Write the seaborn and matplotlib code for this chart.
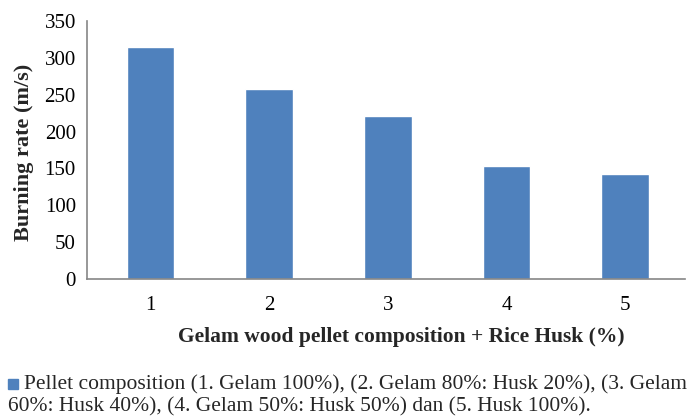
import matplotlib.pyplot as plt
import pandas as pd
import seaborn as sns

sns.set_theme(style="white")
plt.rcParams["font.family"] = ["Liberation Serif", "DejaVu Serif"]

composition = ["1", "2", "3", "4", "5"]
burning_rate = [314, 258, 221, 153, 143]
y_ticks = [0, 50, 100, 150, 200, 250, 300, 350]

df = pd.DataFrame({"composition": composition, "burning_rate": burning_rate})

fig = plt.figure(figsize=(6.9, 4.19), dpi=100)
ax = fig.add_axes([0.126, 0.3334, 0.867, 0.6172])

sns.barplot(data=df, x="composition", y="burning_rate", color="#4F81BD",
            saturation=1, width=0.4, ax=ax)

ax.set_ylim(0, 350)
ax.set_yticks(y_ticks)
ax.set_xlim(-0.535, 4.505)
ax.set_ylabel("Burning rate (m/s)", fontsize=16, fontweight="bold")
ax.yaxis.set_label_coords(-0.088, 0.49)
ax.set_xlabel("Gelam wood pellet composition + Rice Husk (%)", fontsize=15.5,
              fontweight="bold")
ax.xaxis.set_label_coords(0.525, -0.184)
ax.tick_params(axis="both", labelsize=15, colors="black")
ax.tick_params(axis="y", length=4, color="#868686", pad=4)
ax.tick_params(axis="x", length=0, pad=12)

for side in ["top", "right"]:
    ax.spines[side].set_visible(False)
for side in ["left", "bottom"]:
    ax.spines[side].set_color("#868686")
    ax.spines[side].set_linewidth(1.2)

# legend below the chart
fig.patches.append(plt.Rectangle((0.012, 0.072), 0.014, 0.024,
                                 transform=fig.transFigure, color="#4F81BD"))
fig.text(0.035, 0.084,
         "Pellet composition (1. Gelam 100%), (2. Gelam 80%: Husk 20%), (3. Gelam",
         fontsize=15.5, ha="left", va="center")
fig.text(0.011, 0.029,
         "60%: Husk 40%), (4. Gelam 50%: Husk 50%) dan (5. Husk 100%).",
         fontsize=15.5, ha="left", va="center")

fig.savefig("out.png", dpi=100)
